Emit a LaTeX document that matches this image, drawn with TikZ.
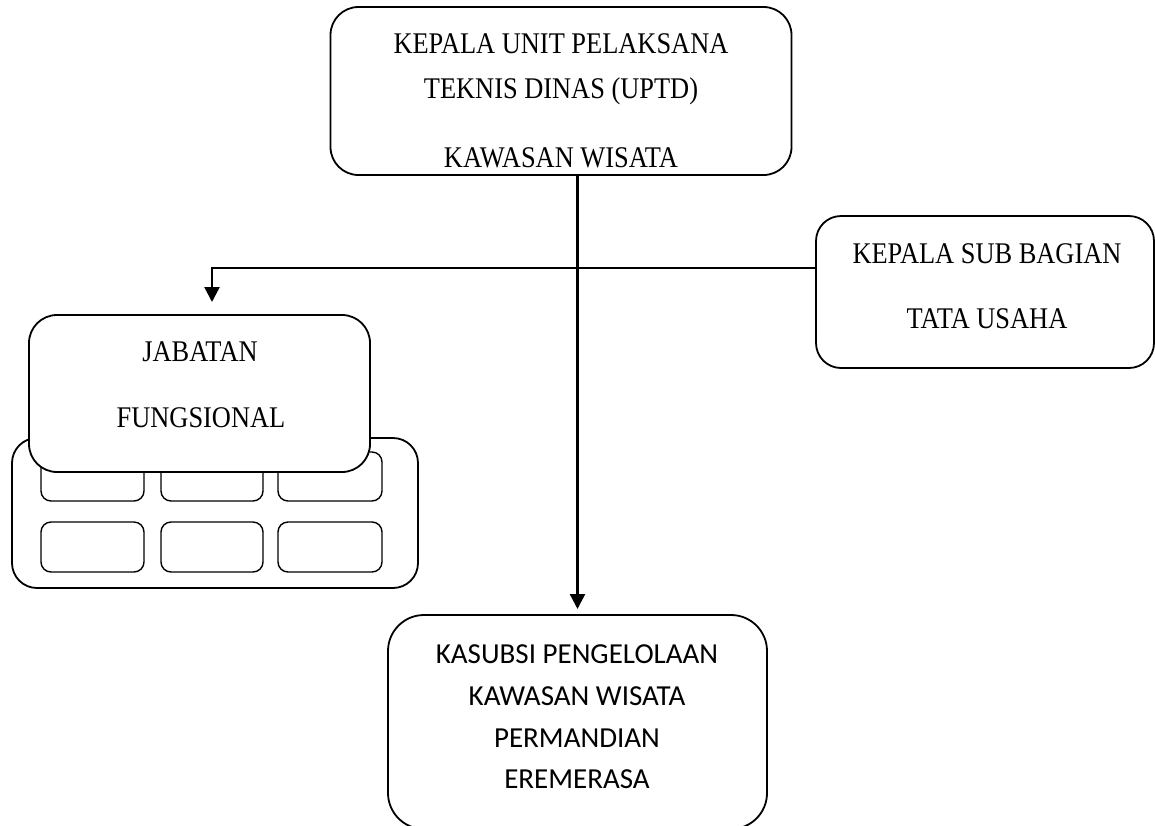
\documentclass[tikz,border=0pt]{standalone}
\usepackage{fontspec}
\setmainfont{Liberation Serif}[FakeStretch=0.88]
\newfontfamily\calfont{Carlito}
\usetikzlibrary{arrows.meta}
\tikzset{
  box/.style={draw, line width=1.8pt, rounded corners=28pt, fill=white},
  cell/.style={draw, line width=1.4pt, rounded corners=10pt, fill=white},
  serifline/.style={anchor=base, inner sep=0pt, font=\fontsize{30}{36}\selectfont},
  sansline/.style={anchor=base, inner sep=0pt, font=\calfont\fontsize{29}{35}\selectfont},
  arr/.style={line width=2.4pt, -{Triangle[width=15pt,length=15pt]}}
}
\begin{document}
\begin{tikzpicture}[x=1pt,y=-1pt]
\useasboundingbox (0,0) rectangle (1155,825);
\clip (0,0) rectangle (1155,825);
% top box
\node[box, minimum width=461pt, minimum height=168pt] (top) at (561,91) {};
\node[serifline] (t1) at (561,53) {KEPALA UNIT PELAKSANA};
\node[serifline] (t2) at (561,98) {TEKNIS DINAS (UPTD)};
\node[serifline] (t3) at (561,167) {KAWASAN WISATA};
% right box
\node[box, rounded corners=25pt, minimum width=338pt, minimum height=152pt] (tu) at (985,292) {};
\node[serifline] (tu1) at (987,263) {KEPALA SUB BAGIAN};
\node[serifline] (tu2) at (987,328) {TATA USAHA};
% background group box
\node[box, rounded corners=25pt, minimum width=406pt, minimum height=150pt] (grp) at (215,513) {};
\node[cell, minimum width=103pt, minimum height=49pt] (c11) at (92.5,476.5) {};
\node[cell, minimum width=102pt, minimum height=49pt] (c12) at (212,476.5) {};
\node[cell, minimum width=104pt, minimum height=49pt] (c13) at (330,476.5) {};
\node[cell, minimum width=103pt, minimum height=50pt] (c21) at (92.5,547) {};
\node[cell, minimum width=102pt, minimum height=50pt] (c22) at (212,547) {};
\node[cell, minimum width=104pt, minimum height=50pt] (c23) at (330,547) {};
% jabatan box
\node[box, minimum width=341pt, minimum height=157pt] (jab) at (199.5,393.5) {};
\node[serifline] (j1) at (200,361) {JABATAN};
\node[serifline] (j2) at (201,427) {FUNGSIONAL};
% bottom box
\node[box, rounded corners=36pt, minimum width=379pt, minimum height=214pt] (sub) at (577.5,722) {};
\node[sansline] (s1) at (577,663) {KASUBSI PENGELOLAAN};
\node[sansline] (s2) at (577,705) {KAWASAN WISATA};
\node[sansline] (s3) at (577,747) {PERMANDIAN};
\node[sansline] (s4) at (577,788) {EREMERASA};
% connectors
\coordinate (subtip) at (577.5,609);
\draw[arr] (top.south -| subtip) -- (subtip);
\coordinate (corner) at (212,268);
\coordinate (jtip) at (212,302);
\draw[arr] (tu.west |- corner) -- (corner) -- (jtip);
\end{tikzpicture}
\end{document}
